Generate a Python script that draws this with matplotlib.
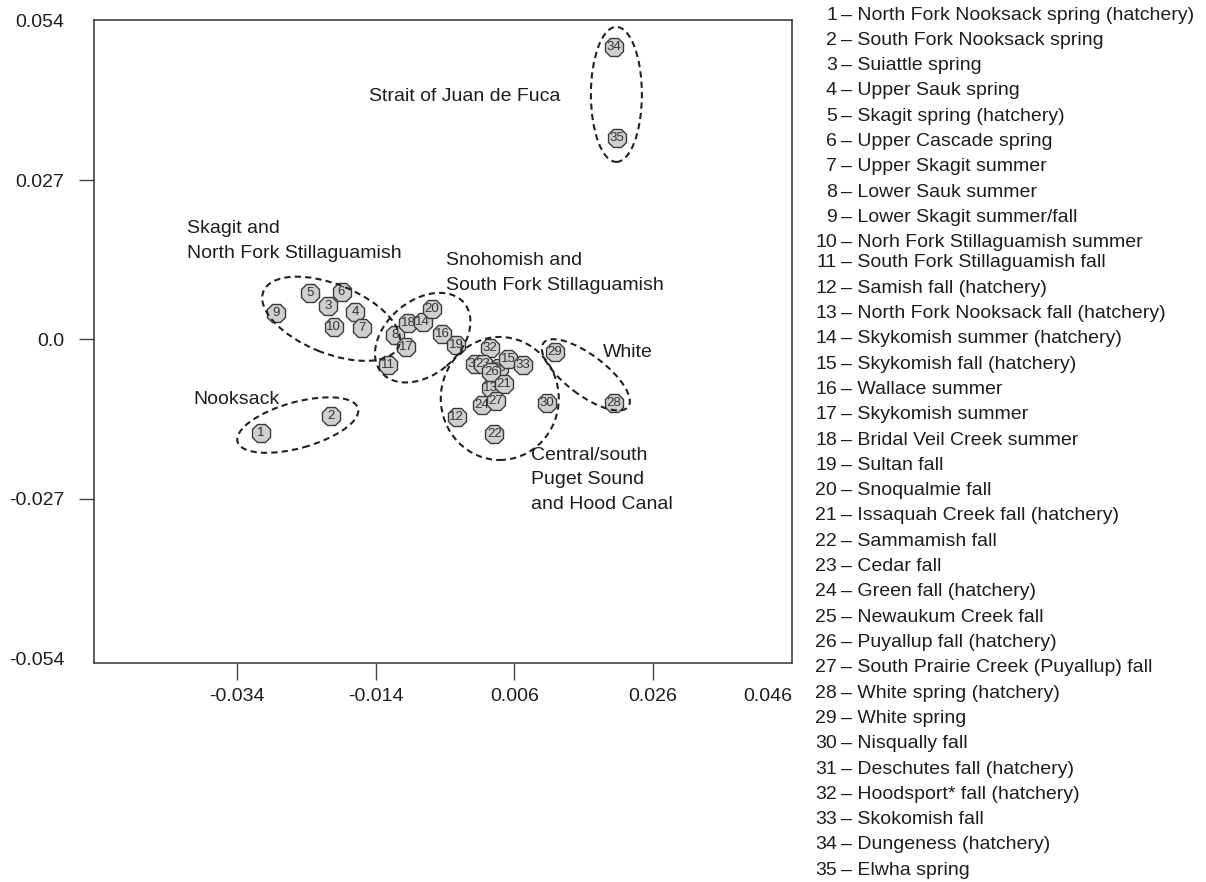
import matplotlib
matplotlib.use("Agg")
import matplotlib.pyplot as plt
from matplotlib.patches import Ellipse
from matplotlib.transforms import ScaledTranslation

plt.rcParams['font.family'] = ['Liberation Sans', 'DejaVu Sans']

# population numbers, in drawing order (later ones sit on top)
labels = [9, 5, 6, 3, 4, 10, 7, 1, 2, 8, 18, 14, 20, 17, 16, 19, 11, 12, 22,
          30, 29, 28, 34, 35, 32, 31, 23, 13, 25, 24, 15, 33, 26, 21, 27]
xs = [-0.0283, -0.0234, -0.0189, -0.0208, -0.0169, -0.0200, -0.0160, -0.0305,
      -0.0204, -0.0112, -0.0093, -0.0072, -0.0059, -0.0096, -0.0044, -0.0024,
      -0.0122, -0.0023, 0.0031, 0.0107, 0.0118, 0.0203, 0.0203, 0.0208,
      0.0025, 0.0003, 0.0015, 0.0026, 0.0038, 0.0013, 0.0051, 0.0072,
      0.0027, 0.0045, 0.0033]
ys = [0.0044, 0.0078, 0.0080, 0.0057, 0.0046, 0.0021, 0.0019, -0.0158,
      -0.0130, 0.0008, 0.0027, 0.0029, 0.0052, -0.0013, 0.0009, -0.0009,
      -0.0044, -0.0131, -0.0161, -0.0107, -0.0022, -0.0107, 0.0496, 0.0341,
      -0.0015, -0.0042, -0.0041, -0.0083, -0.0049, -0.0111, -0.0033, -0.0044,
      -0.0056, -0.0076, -0.0105]

# group names and where they are written (left edge, middle)
group_names = ["Strait of Juan de Fuca",
               "Skagit and\nNorth Fork Stillaguamish",
               "Snohomish and\nSouth Fork Stillaguamish",
               "White",
               "Nooksack",
               "Central/south\nPuget Sound\nand Hood Canal"]
group_x = [-0.0150, -0.0412, -0.0038, 0.0188, -0.0402, 0.0084]
group_y = [0.0412, 0.0167, 0.0113, -0.0022, -0.0102, -0.0238]

# dashed ellipses: centre (data), width/height in pixels, angle
ell_cx = [0.0207, -0.0204, -0.0072, 0.0039, 0.0163, -0.0252]
ell_cy = [0.0415, 0.0035, 0.0003, -0.0100, -0.0060, -0.0145]
ell_w = [51, 146, 108, 118, 106, 125]
ell_h = [135, 69, 74, 123, 40, 46]
ell_ang = [0, -22, 40, 0, -37, 15.5]

pop_names = [
    "North Fork Nooksack spring (hatchery)",
    "South Fork Nooksack spring",
    "Suiattle spring",
    "Upper Sauk spring",
    "Skagit spring (hatchery)",
    "Upper Cascade spring",
    "Upper Skagit summer",
    "Lower Sauk summer",
    "Lower Skagit summer/fall",
    "Norh Fork Stillaguamish summer",
    "South Fork Stillaguamish fall",
    "Samish fall (hatchery)",
    "North Fork Nooksack fall (hatchery)",
    "Skykomish summer (hatchery)",
    "Skykomish fall (hatchery)",
    "Wallace summer",
    "Skykomish summer",
    "Bridal Veil Creek summer",
    "Sultan fall",
    "Snoqualmie fall",
    "Issaquah Creek fall (hatchery)",
    "Sammamish fall",
    "Cedar fall",
    "Green fall (hatchery)",
    "Newaukum Creek fall",
    "Puyallup fall (hatchery)",
    "South Prairie Creek (Puyallup) fall",
    "White spring (hatchery)",
    "White spring",
    "Nisqually fall",
    "Deschutes fall (hatchery)",
    "Hoodsport* fall (hatchery)",
    "Skokomish fall",
    "Dungeness (hatchery)",
    "Elwha spring",
]

xticks = [-0.034, -0.014, 0.006, 0.026, 0.046]
yticks = [-0.054, -0.027, 0.0, 0.027, 0.054]

W, H = 1206, 882
fig = plt.figure(figsize=(W / 100, H / 100), dpi=100)
ax = fig.add_axes([94.4 / W, 1 - 663 / H, (792 - 94.4) / W, 643 / H])
ax.set_xlim(-0.0545, 0.046)
ax.set_ylim(-0.0548, 0.0541)

txt = '#1e1e1e'
for i, (lab, x, y) in enumerate(zip(labels, xs, ys)):
    z = 3 + 2 * i
    ax.plot(x, y, marker='8', markersize=14.5, markerfacecolor='#cfcfcf',
            markeredgecolor='#3a3a3a', markeredgewidth=1.0, linestyle='none',
            zorder=z)
    ax.text(x, y, str(lab), ha='center', va='center', fontsize=9.5,
            color='#333333', zorder=z + 1)

for cx, cy, w, h, a in zip(ell_cx, ell_cy, ell_w, ell_h, ell_ang):
    tr = fig.dpi_scale_trans + ScaledTranslation(cx, cy, ax.transData)
    e = Ellipse((0, 0), w / 100, h / 100, angle=a, transform=tr, fill=False,
                edgecolor='#222222', linewidth=1.5, linestyle=(0, (3, 2)),
                zorder=200)
    ax.add_patch(e)

for name, gx, gy in zip(group_names, group_x, group_y):
    ax.text(gx, gy, name, ha='left', va='center', fontsize=14, color=txt,
            linespacing=1.6, zorder=250)

ax.set_xticks(xticks)
ax.set_xticklabels([f"{v:.3f}" for v in xticks])
ax.set_yticks(yticks)
ax.set_yticklabels([f"{v:.3f}" if v != 0 else "0.0" for v in yticks])
ax.tick_params(axis='both', labelsize=14, labelcolor=txt, color='#444444',
               width=1)
ax.tick_params(axis='x', length=12, pad=6)
ax.tick_params(axis='y', length=11, pad=10.5)
ax.get_xticklabels()[-1].set_ha('right')
# no tick marks at the frame corners, only the labels
ax.xaxis.get_major_ticks()[-1].tick1line.set_visible(False)
ax.yaxis.get_major_ticks()[0].tick1line.set_visible(False)
ax.yaxis.get_major_ticks()[-1].tick1line.set_visible(False)
for s in ax.spines.values():
    s.set_color('#333333')
    s.set_linewidth(1.1)

# population key down the right side
for i, name in enumerate(pop_names):
    ypx = 15 + 25.3 * i - (5 if i >= 10 else 0)
    yf = 1 - ypx / H
    fig.text(837 / W, yf, str(i + 1), ha='right', va='center', fontsize=14,
             color=txt)
    fig.text(841 / W, yf, "\u2013 " + name, ha='left', va='center',
             fontsize=14, color=txt)

fig.savefig('out.png', dpi=100)
